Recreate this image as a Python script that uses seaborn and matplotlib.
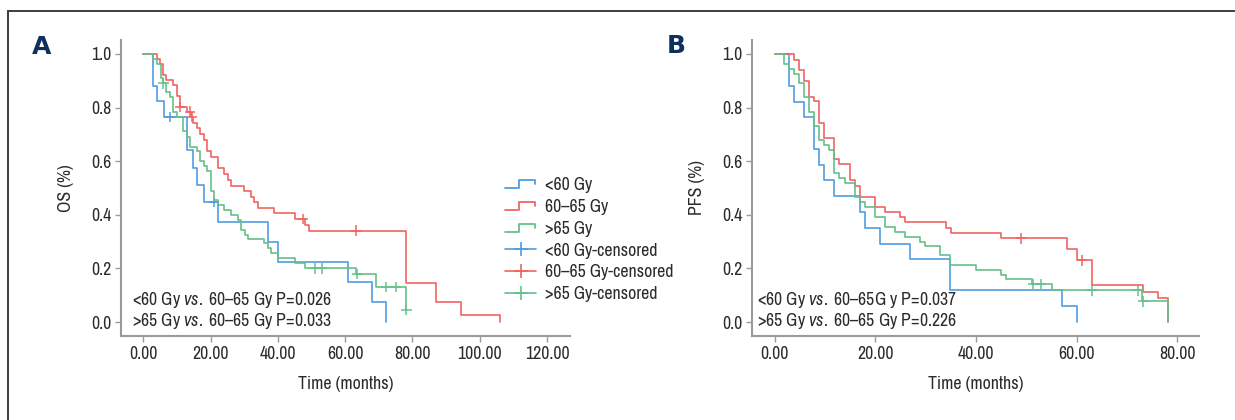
import numpy as np
import pandas as pd
import matplotlib
matplotlib.use("Agg")
import matplotlib.pyplot as plt
from matplotlib import font_manager
from matplotlib.legend_handler import HandlerBase
from matplotlib.lines import Line2D
from matplotlib.patches import Rectangle
import seaborn as sns

# ---------------------------------------------------------------- data
GROUPS = ["<60 Gy", "60–65 Gy", ">65 Gy"]
COLORS = ["#4f9de0", "#f06464", "#66c08a"]

# Overall survival (panel A): step times (months) and survival after each step
os_lt60_t = [0, 3.0, 4.0, 6.1, 13.1, 14.9, 16.0, 18.0, 22.1, 37.1, 40.1, 60.9, 67.9, 72.0]
os_lt60_s = [1.0, 0.882, 0.824, 0.764, 0.642, 0.576, 0.511, 0.447, 0.374, 0.300, 0.225, 0.150, 0.076, 0.0]
os_lt60_cens = [7.9, 21.1]

os_mid_t = [0, 4.0, 5.0, 5.9, 6.9, 8.9, 9.9, 10.9, 13.1, 14.1, 14.9, 16.0, 17.0, 18.0, 19.0,
            20.0, 22.1, 24.1, 25.1, 26.1, 30.0, 32.0, 33.0, 34.0, 39.0, 45.0, 48.0, 49.3,
            78.0, 87.0, 94.3, 106.0]
os_mid_s = [1.0, 0.981, 0.961, 0.922, 0.903, 0.884, 0.843, 0.803, 0.785, 0.764, 0.744, 0.723,
            0.700, 0.679, 0.639, 0.617, 0.573, 0.551, 0.530, 0.509, 0.489, 0.468, 0.447, 0.427,
            0.406, 0.384, 0.362, 0.341, 0.147, 0.076, 0.026, 0.0]
os_mid_cens = [11.0, 13.8, 14.4, 47.5, 63.2]

os_gt65_t = [0, 3.0, 4.0, 5.2, 5.9, 6.9, 7.9, 8.9, 9.9, 11.9, 13.1, 13.9, 16.0, 17.0, 18.0,
             19.0, 20.0, 21.1, 22.1, 24.1, 26.1, 28.1, 29.0, 30.2, 31.2, 36.0, 37.1, 38.1,
             40.1, 45.1, 48.0, 63.2, 69.1, 78.0]
os_gt65_s = [1.0, 0.981, 0.961, 0.909, 0.890, 0.857, 0.838, 0.782, 0.764, 0.714, 0.690, 0.654,
             0.638, 0.602, 0.583, 0.565, 0.490, 0.455, 0.437, 0.418, 0.400, 0.380, 0.343, 0.325,
             0.310, 0.294, 0.275, 0.256, 0.238, 0.219, 0.200, 0.178, 0.130, 0.045]
os_gt65_cens = [6.0, 51.0, 53.0, 63.6, 72.1, 75.1, 78.2]

# Progression-free survival (panel B)
pfs_lt60_t = [0, 2.8, 3.8, 5.8, 7.8, 8.8, 9.8, 11.8, 16.9, 17.9, 20.9, 26.9, 34.8, 57.0, 60.0]
pfs_lt60_s = [1.0, 0.879, 0.822, 0.763, 0.647, 0.587, 0.529, 0.470, 0.411, 0.352, 0.293, 0.234,
              0.118, 0.059, 0.0]
pfs_lt60_cens = []

pfs_mid_t = [0, 3.8, 4.8, 5.8, 6.8, 7.8, 8.8, 9.8, 11.8, 12.8, 14.9, 15.9, 16.9, 19.9, 21.9,
             24.9, 25.9, 34.0, 35.0, 45.0, 58.0, 60.0, 63.1, 73.1, 76.1, 78.1]
pfs_mid_s = [1.0, 0.979, 0.941, 0.900, 0.841, 0.823, 0.744, 0.686, 0.607, 0.588, 0.528, 0.509,
             0.468, 0.429, 0.409, 0.390, 0.372, 0.352, 0.332, 0.312, 0.271, 0.230, 0.137, 0.112,
             0.091, 0.0]
pfs_mid_cens = [49.0, 61.0]

pfs_gt65_t = [0, 1.8, 2.8, 3.8, 4.8, 5.8, 6.8, 7.8, 8.8, 9.8, 10.8, 11.8, 12.8, 13.9, 15.9,
              16.9, 17.9, 19.9, 21.9, 23.9, 25.9, 28.9, 29.9, 32.8, 34.8, 40.0, 45.0, 46.0,
              51.1, 55.1, 73.0, 78.1]
pfs_gt65_s = [1.0, 0.963, 0.944, 0.925, 0.891, 0.838, 0.784, 0.732, 0.680, 0.661, 0.642, 0.555,
              0.536, 0.518, 0.466, 0.447, 0.429, 0.391, 0.355, 0.337, 0.318, 0.299, 0.283, 0.249,
              0.212, 0.196, 0.177, 0.160, 0.141, 0.118, 0.077, 0.0]
pfs_gt65_cens = [51.3, 52.9, 63.1, 72.1, 73.2]

A_TICKS = [0, 20, 40, 60, 80, 100, 120]
B_TICKS = [0, 20, 40, 60, 80]
Y_TICKS = [0.0, 0.2, 0.4, 0.6, 0.8, 1.0]

A_NOTES = ["<60 Gy $\\it{vs.}$ 60–65 Gy P=0.026", ">65 Gy $\\it{vs.}$ 60–65 Gy P=0.033"]
B_NOTES = ["<60 Gy $\\it{vs.}$ 60–65G y P=0.037", ">65 Gy $\\it{vs.}$ 60–65 Gy P=0.226"]

# ---------------------------------------------------------------- style
sns.set_theme(style="white")


def pick_font():
    fonts = font_manager.fontManager.ttflist
    names = {f.name for f in fonts}
    for n in sorted(names):
        if "Narrow" in n or "Condensed" in n:
            return n, "normal"
    for f in fonts:
        if f.stretch in ("condensed", "semi-condensed", "extra-condensed"):
            return f.name, f.stretch
    for n in ("Roboto", "Lato", "Liberation Sans"):
        if n in names:
            return n, "normal"
    return "DejaVu Sans", "normal"


BODY, STRETCH = pick_font()
plt.rcParams["font.family"] = [BODY, "DejaVu Sans"]
plt.rcParams["font.stretch"] = STRETCH
plt.rcParams["mathtext.fontset"] = "custom"
plt.rcParams["mathtext.rm"] = BODY
plt.rcParams["mathtext.it"] = f"{BODY}:italic"

TEXT = "#2b2b2b"
AXIS = "#9a9a9a"
FS = 12.8 if BODY not in ("Roboto", "Lato", "Liberation Sans", "DejaVu Sans") else 11.5


class StepHandler(HandlerBase):
    """Legend glyph shaped like a single survival step."""

    def create_artists(self, legend, orig, xd, yd, w, h, fontsize, trans):
        x = np.array([0, 0.45, 0.45, 0.95, 0.95]) * w - xd
        y = np.array([0.15, 0.15, 0.8, 0.8, 0.5]) * h - yd
        ln = Line2D(x, y, color=orig.get_color(), lw=1.3, transform=trans)
        return [ln]


def step_value(t, s, x):
    i = np.searchsorted(np.asarray(t), x, side="right") - 1
    return s[i]


def draw_panel(ax, curves, censors, xlim, ticks, ylabel, notes, note_x):
    rows = []
    for g, (t, s) in zip(GROUPS, curves):
        rows += [{"time": a, "surv": b, "group": g} for a, b in zip(t, s)]
    df = pd.DataFrame(rows)
    sns.lineplot(data=df, x="time", y="surv", hue="group", hue_order=GROUPS,
                 palette=COLORS, estimator=None, sort=False, drawstyle="steps-post",
                 linewidth=1.2, legend=False, ax=ax)
    crow = []
    for g, (t, s), c in zip(GROUPS, curves, censors):
        crow += [{"time": x, "surv": step_value(t, s, x), "group": g} for x in c]
    cdf = pd.DataFrame(crow)
    sns.scatterplot(data=cdf, x="time", y="surv", hue="group", hue_order=GROUPS,
                    palette=COLORS, marker="+", s=55, linewidth=1.1, legend=False, ax=ax)

    ax.set_xlim(*xlim)
    ax.set_ylim(-0.052, 1.052)
    ax.set_xticks(ticks)
    ax.set_xticklabels([f"{v:.2f}" for v in ticks])
    ax.set_yticks(Y_TICKS)
    ax.set_yticklabels([f"{v:.1f}" for v in Y_TICKS])
    ax.set_xlabel("Time (months)", fontsize=FS, color=TEXT, labelpad=10)
    ax.set_ylabel(ylabel, fontsize=FS, color=TEXT, labelpad=12)
    ax.tick_params(axis="both", labelsize=FS, colors=AXIS, labelcolor=TEXT,
                   length=4, width=1, direction="out", bottom=True, left=True, pad=3)
    for side in ("top", "right"):
        ax.spines[side].set_visible(False)
    for side in ("left", "bottom"):
        ax.spines[side].set_color(AXIS)
        ax.spines[side].set_linewidth(1.5)
    ax.grid(False)
    for k, txt in enumerate(notes):
        ax.text(note_x, 0.122 - 0.071 * k, txt, transform=ax.transAxes,
                fontsize=FS, color=TEXT, va="center", ha="left")


fig = plt.figure(figsize=(12.35, 4.2), dpi=100)
fig.patch.set_facecolor("white")

axA = fig.add_axes([121 / 1235, 84 / 420, 449 / 1235, 296 / 420])
axB = fig.add_axes([752 / 1235, 84 / 420, 447 / 1235, 296 / 420])

draw_panel(axA,
           [(os_lt60_t, os_lt60_s), (os_mid_t, os_mid_s), (os_gt65_t, os_gt65_s)],
           [os_lt60_cens, os_mid_cens, os_gt65_cens],
           (-6.6, 126.8), A_TICKS, "OS (%)", A_NOTES, 0.025)
draw_panel(axB,
           [(pfs_lt60_t, pfs_lt60_s), (pfs_mid_t, pfs_mid_s), (pfs_gt65_t, pfs_gt65_s)],
           [pfs_lt60_cens, pfs_mid_cens, pfs_gt65_cens],
           (-4.5, 84.3), B_TICKS, "PFS (%)", B_NOTES, 0.012)

# legend: step glyphs for the curves, crosses for censored cases
step_handles = [Line2D([], [], color=c) for c in COLORS]
cross_handles = [Line2D([], [], color=c, lw=1.2, marker="+", markersize=10, mew=1.2)
                 for c in COLORS]
handles = step_handles + cross_handles
labels = GROUPS + [g + "-censored" for g in GROUPS]
fig.legend(handles, labels, loc="upper left",
           bbox_to_anchor=(505 / 1235, 1 - 177 / 420), frameon=False,
           fontsize=FS, labelcolor=TEXT, handlelength=1.75, handletextpad=0.5,
           labelspacing=0.33, borderpad=0, borderaxespad=0,
           handler_map={h: StepHandler() for h in step_handles})

# panel letters
fig.text(42 / 1235, 1 - 47 / 420, "A", fontsize=18, fontweight="bold", color="#0f2f5c",
         family="DejaVu Sans", ha="center", va="center")
fig.text(676 / 1235, 1 - 46 / 420, "B", fontsize=18, fontweight="bold", color="#0f2f5c",
         family="DejaVu Sans", ha="center", va="center")

# outer frame
fig.add_artist(Rectangle((8 / 1235, -0.1), 1.2, 1 - 11 / 420 + 0.1, transform=fig.transFigure,
                         fill=False, edgecolor="#3c3c3c", linewidth=1.4))

fig.savefig("out.png", dpi=100, facecolor="white")
